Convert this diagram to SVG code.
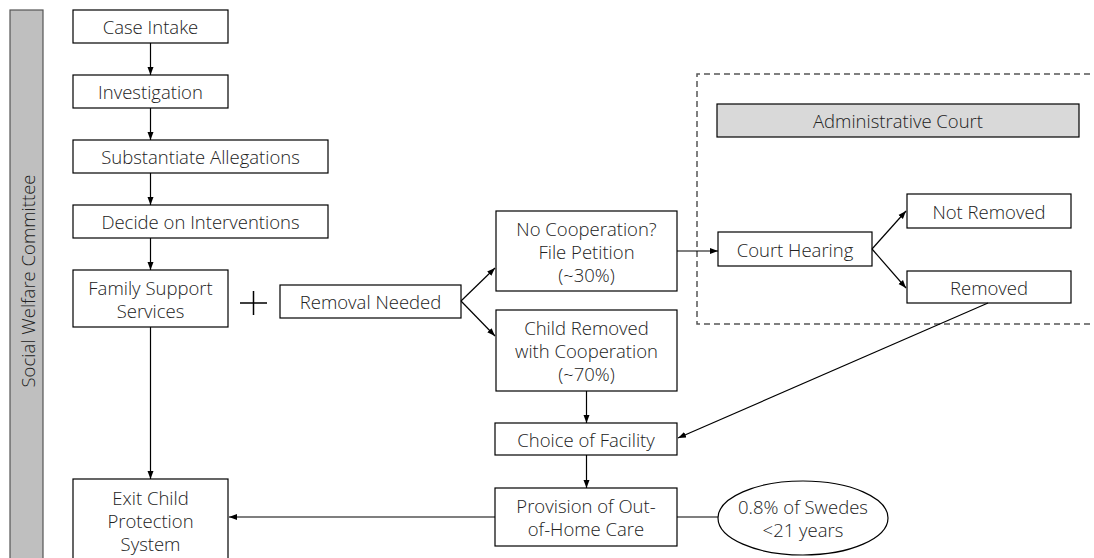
<svg xmlns="http://www.w3.org/2000/svg" width="1094" height="558" viewBox="0 0 1094 558">
<defs>
<marker id="ah" markerWidth="8" markerHeight="8" refX="8" refY="4" orient="auto" markerUnits="userSpaceOnUse">
<path d="M0,1 L8,4 L0,7 Z" fill="#000"/>
</marker>
<style>
.box{fill:#fff;stroke:#000;stroke-width:1.2}
.gbox{fill:#d9d9d9;stroke:#000;stroke-width:1.2}
.t{font-family:"Open Sans","Noto Sans",sans-serif;font-size:18.5px;font-weight:300;fill:#222;text-anchor:middle;dominant-baseline:central}
.c{stroke:#000;stroke-width:1.2;fill:none}
.ca{stroke:#000;stroke-width:1.2;fill:none;marker-end:url(#ah)}
</style>
</defs>
<rect width="1094" height="558" fill="#fff"/>
<g id="lane">
<rect x="10" y="10" width="33" height="560" fill="#bfbfbf" stroke="#555" stroke-width="1.2"/>
<text class="t" transform="translate(27,281) rotate(-90)">Social Welfare Committee</text>
</g>
<g id="court-region">
<path d="M1100,74 H697 V324 H1100" fill="none" stroke="#555" stroke-width="1.5" stroke-dasharray="6,4"/>
</g>
<g id="admin-court">
<rect class="gbox" x="717" y="104" width="362" height="33"/>
<text class="t" x="898" y="120.5">Administrative Court</text>
</g>
<g id="case-intake">
<rect class="box" x="73" y="10" width="155" height="33"/>
<text class="t" x="150.5" y="26.5">Case Intake</text>
</g>
<g id="investigation">
<rect class="box" x="73" y="75" width="155" height="33"/>
<text class="t" x="150.5" y="91.5">Investigation</text>
</g>
<g id="substantiate">
<rect class="box" x="73" y="140" width="255" height="33"/>
<text class="t" x="200.5" y="156.5">Substantiate Allegations</text>
</g>
<g id="decide">
<rect class="box" x="73" y="205" width="255" height="33"/>
<text class="t" x="200.5" y="221.5">Decide on Interventions</text>
</g>
<g id="family-support">
<rect class="box" x="73" y="270" width="155" height="57"/>
<text class="t" x="150.5" y="287">Family Support</text>
<text class="t" x="150.5" y="310">Services</text>
</g>
<g id="plus">
<path d="M240,303 H267 M253.5,291 V315" stroke="#000" stroke-width="1.5"/>
</g>
<g id="removal-needed">
<rect class="box" x="280" y="285" width="181" height="33"/>
<text class="t" x="370.5" y="301.5">Removal Needed</text>
</g>
<g id="no-cooperation">
<rect class="box" x="496" y="211" width="181" height="80"/>
<text class="t" x="586.5" y="228">No Cooperation?</text>
<text class="t" x="586.5" y="251">File Petition</text>
<text class="t" x="586.5" y="274">(~30%)</text>
</g>
<g id="child-removed">
<rect class="box" x="496" y="310" width="181" height="81"/>
<text class="t" x="586.5" y="327">Child Removed</text>
<text class="t" x="586.5" y="350">with Cooperation</text>
<text class="t" x="586.5" y="373">(~70%)</text>
</g>
<g id="court-hearing">
<rect class="box" x="718" y="232" width="154" height="34"/>
<text class="t" x="795" y="249">Court Hearing</text>
</g>
<g id="not-removed">
<rect class="box" x="907" y="194" width="164" height="34"/>
<text class="t" x="989" y="211">Not Removed</text>
</g>
<g id="removed">
<rect class="box" x="907" y="271" width="164" height="32"/>
<text class="t" x="989" y="287">Removed</text>
</g>
<g id="choice">
<rect class="box" x="495" y="423" width="182" height="32"/>
<text class="t" x="586" y="439">Choice of Facility</text>
</g>
<g id="provision">
<rect class="box" x="495" y="488" width="182" height="58"/>
<text class="t" x="586" y="505.5">Provision of Out-</text>
<text class="t" x="586" y="528.5">of-Home Care</text>
</g>
<g id="stat">
<ellipse cx="803" cy="518" rx="85" ry="37" fill="#fff" stroke="#000" stroke-width="1.2"/>
<text class="t" x="803" y="506">0.8% of Swedes</text>
<text class="t" x="803" y="529">&lt;21 years</text>
</g>
<g id="exit">
<rect class="box" x="73" y="479" width="155" height="85"/>
<text class="t" x="150.5" y="497">Exit Child</text>
<text class="t" x="150.5" y="520">Protection</text>
<text class="t" x="150.5" y="543">System</text>
</g>
<g id="connectors">
<line class="ca" x1="150.5" y1="43" x2="150.5" y2="75"/>
<line class="ca" x1="150.5" y1="108" x2="150.5" y2="140"/>
<line class="ca" x1="150.5" y1="173" x2="150.5" y2="205"/>
<line class="ca" x1="150.5" y1="238" x2="150.5" y2="270"/>
<line class="ca" x1="150.5" y1="327" x2="150.5" y2="479"/>
<line class="ca" x1="461" y1="301" x2="495" y2="268"/>
<line class="ca" x1="461" y1="301" x2="495" y2="336"/>
<line class="ca" x1="677" y1="251" x2="718" y2="251"/>
<line class="ca" x1="872" y1="249" x2="906" y2="211"/>
<line class="ca" x1="872" y1="249" x2="906" y2="288"/>
<line class="ca" x1="988" y1="303" x2="678" y2="438"/>
<line class="ca" x1="586.5" y1="391" x2="586.5" y2="423"/>
<line class="ca" x1="586.5" y1="455" x2="586.5" y2="488"/>
<line class="ca" x1="495" y1="517" x2="229" y2="517"/>
<line class="c" x1="677" y1="517" x2="718" y2="517"/>
</g>
</svg>
